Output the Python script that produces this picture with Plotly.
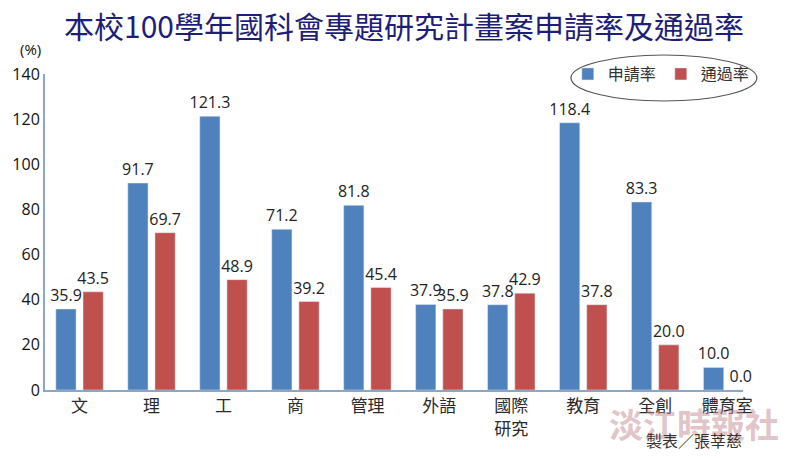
import plotly.graph_objects as go

categories = ["文", "理", "工", "商", "管理", "外語", "國際<br>研究", "教育", "全創", "體育室"]
apply_rate = [35.9, 91.7, 121.3, 71.2, 81.8, 37.9, 37.8, 118.4, 83.3, 10.0]
pass_rate = [43.5, 69.7, 48.9, 39.2, 45.4, 35.9, 42.9, 37.8, 20.0, 0.0]
series_names = ["申請率", "通過率"]
y_ticks = [0, 20, 40, 60, 80, 100, 120, 140]

BLUE = "#4F81BD"
RED = "#C0504D"
LBL_FONT = dict(family="Open Sans, Noto Sans CJK TC", size=16, color="#222222")

fig = go.Figure()
for name, vals, col in [(series_names[0], apply_rate, BLUE), (series_names[1], pass_rate, RED)]:
    fig.add_trace(go.Bar(
        x=categories, y=vals, name=name, marker_color=col,
        text=[f"{v:.1f}" for v in vals], textposition="outside",
        textfont=LBL_FONT, constraintext="none", cliponaxis=False,
    ))

fig.update_layout(
    width=800, height=458,
    margin=dict(l=37, r=57, t=74, b=68),
    paper_bgcolor="white", plot_bgcolor="white",
    barmode="group", bargap=0.245, bargroupgap=0.255,
    title=dict(text="本校100學年國科會專題研究計畫案申請率及通過率",
               x=0.505, xanchor="center", y=0.94, yanchor="middle",
               font=dict(family="Noto Sans CJK TC", size=30, color="#1E1E78")),
    showlegend=True,
    legend=dict(orientation="h", x=0.749, xanchor="left", y=1.0, yanchor="middle",
                bgcolor="rgba(0,0,0,0)", font=dict(family="Noto Sans CJK TC", size=16, color="#333333"),
                itemwidth=30),
    xaxis=dict(range=[-0.48, 9.22], showline=True, linecolor="#8EA6C6", linewidth=2,
               ticks="", showgrid=False,
               tickfont=dict(family="Noto Sans CJK TC", size=17, color="#2a2a2a")),
    yaxis=dict(range=[0, 140], tickvals=y_ticks, showline=True, linecolor="#8EA6C6", linewidth=2,
               ticks="", showgrid=False, zeroline=False,
               tickfont=dict(family="Open Sans", size=16, color="#111111")),
)

fig.add_annotation(text="(%)", xref="paper", yref="paper", x=-0.003, y=1.08,
                   xanchor="right", yanchor="middle", showarrow=False,
                   font=dict(family="Open Sans", size=15, color="#111111"))

fig.add_shape(type="circle", xref="paper", yref="paper",
              x0=(569 - 37) / 706, x1=(757 - 37) / 706,
              y0=(390 - 101) / 316, y1=(390 - 55) / 316,
              line=dict(color="#555555", width=1.2))

fig.add_annotation(text="<b>淡江時報社</b>", xref="paper", yref="paper",
                   x=(693 - 37) / 706, y=(390 - 423) / 316, xanchor="center", yanchor="middle",
                   showarrow=False,
                   font=dict(family="Noto Sans CJK TC", size=34, color="rgba(195,140,145,0.5)"))
fig.add_annotation(text="製表／張莘慈", xref="paper", yref="paper",
                   x=(693 - 37) / 706, y=(390 - 440) / 316, xanchor="center", yanchor="middle",
                   showarrow=False,
                   font=dict(family="Noto Sans CJK TC", size=16, color="#333333"))

fig.write_html("out.html")
